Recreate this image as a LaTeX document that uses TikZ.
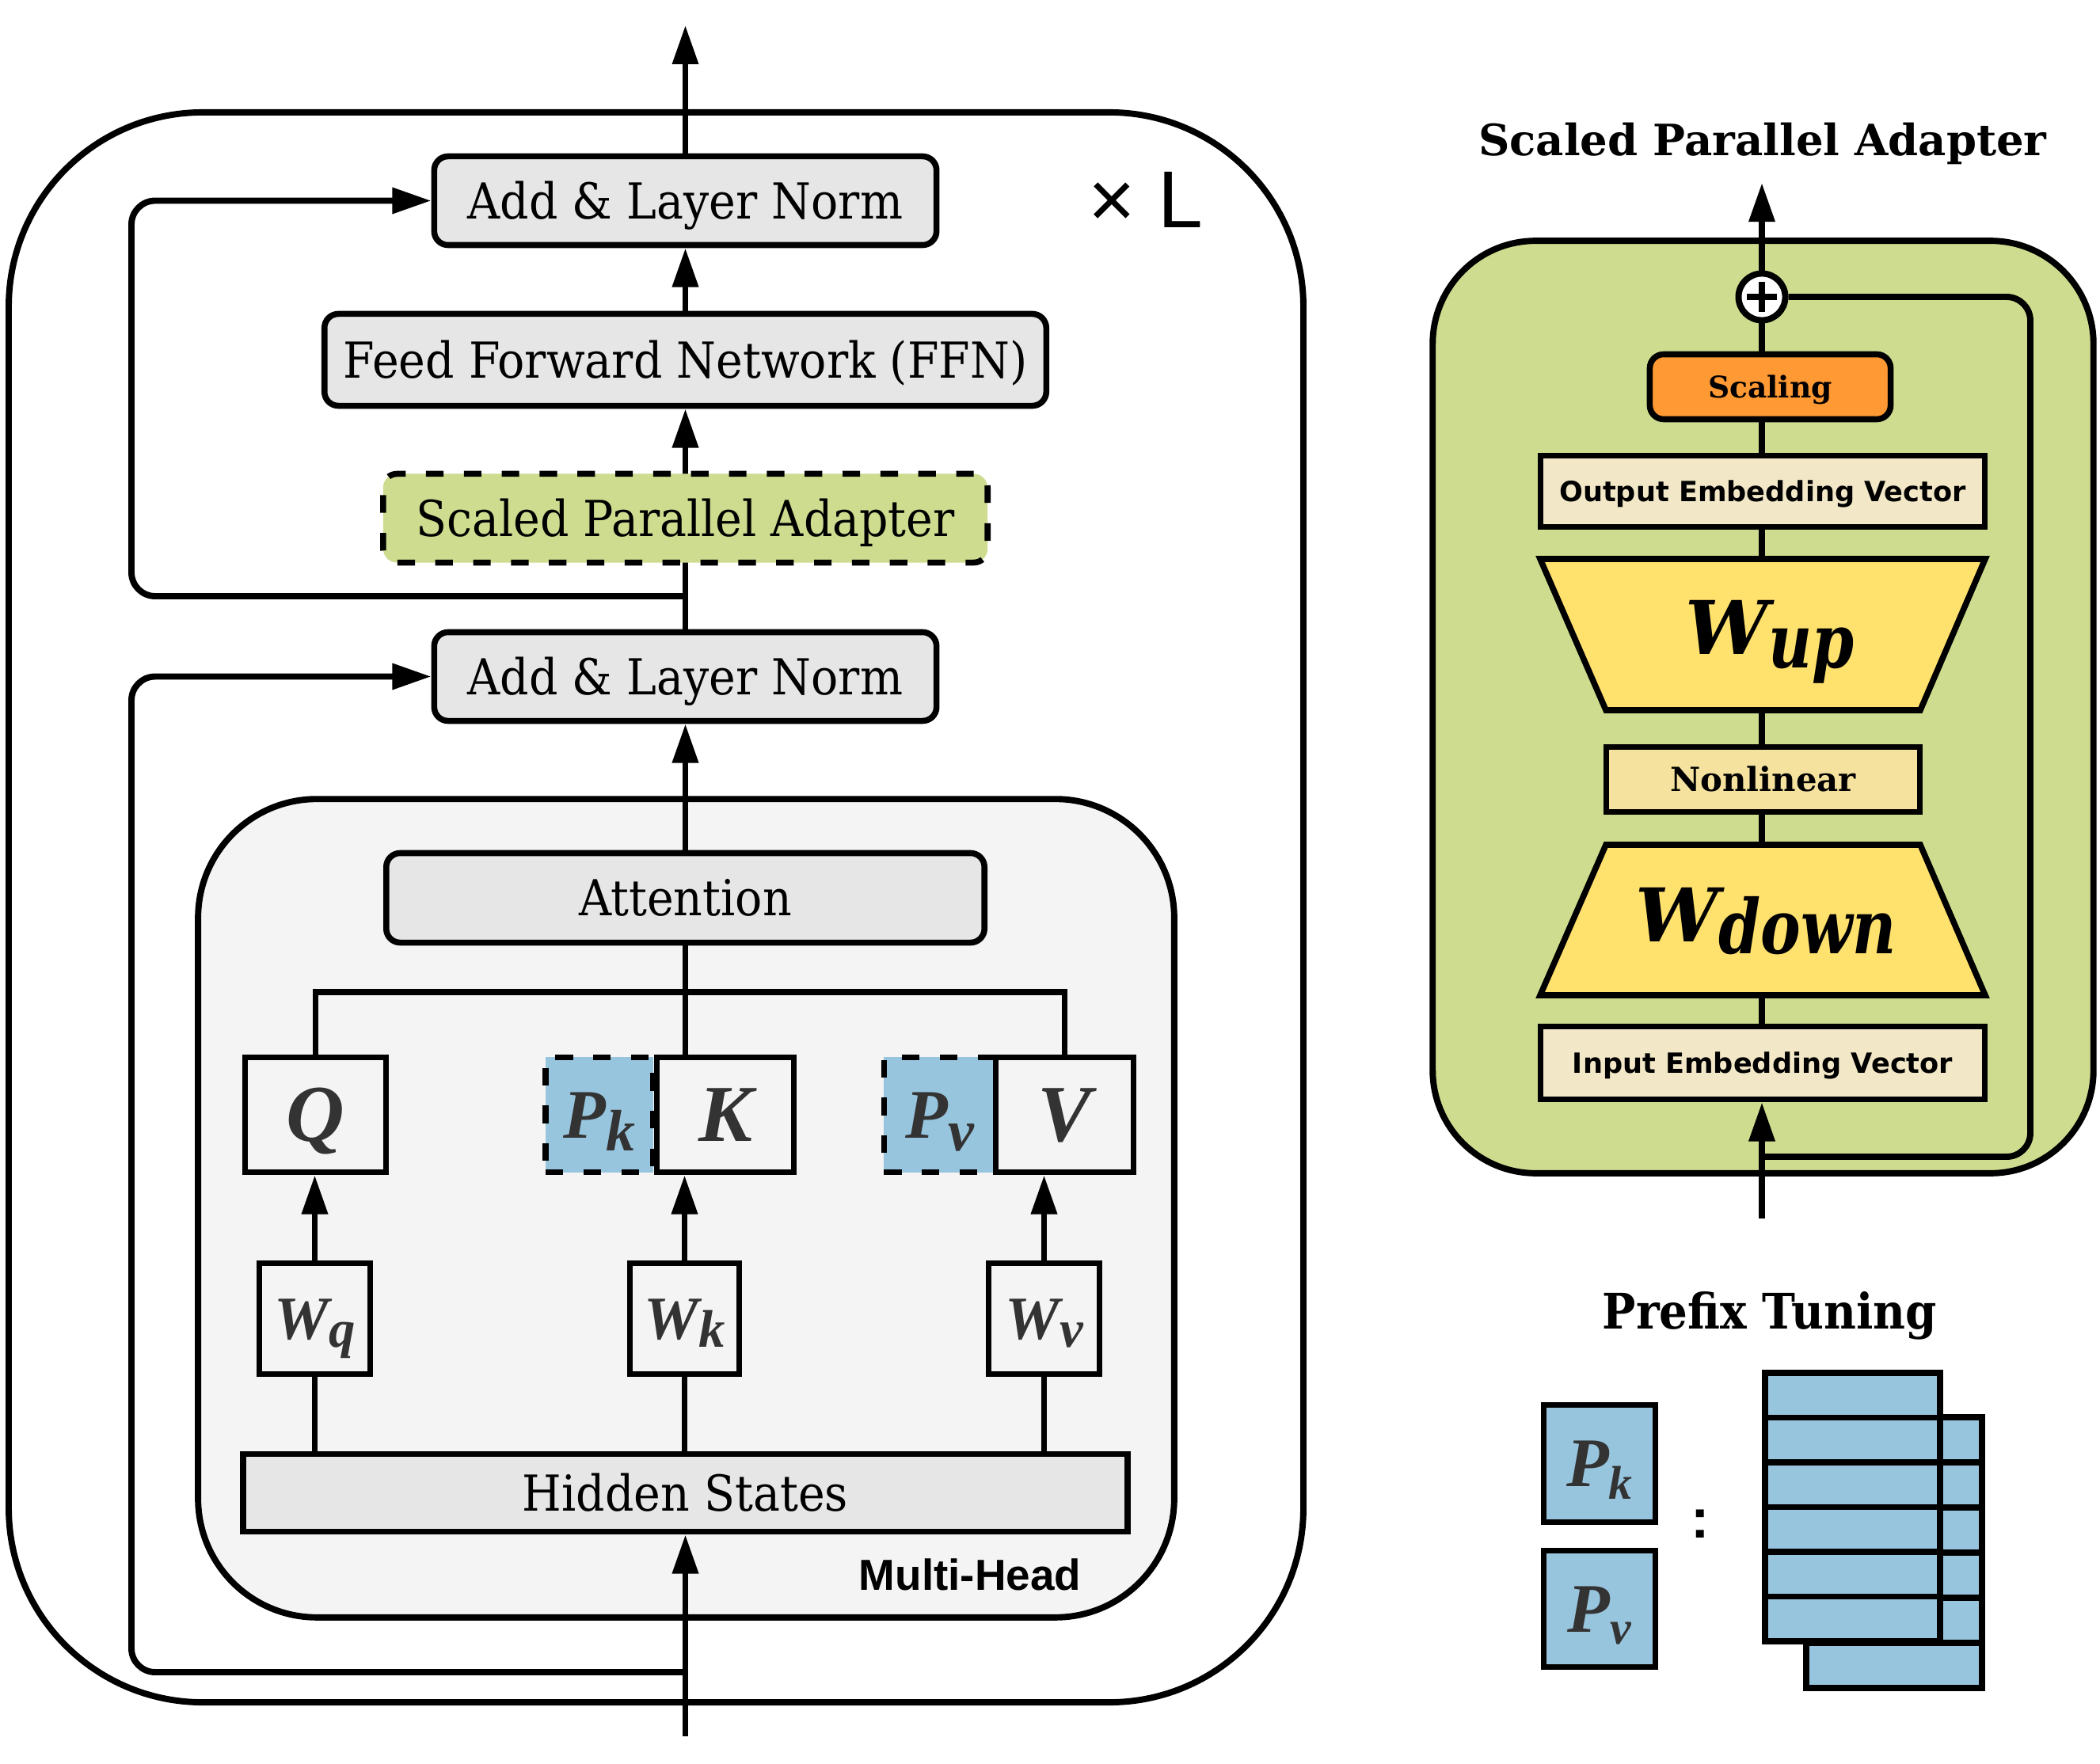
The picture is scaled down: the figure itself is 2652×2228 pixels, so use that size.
\documentclass[tikz,border=0pt]{standalone}
\usepackage{fontspec}
\usetikzlibrary{arrows.meta}
\newfontfamily\slabf[FakeStretch=0.91]{DejaVu Serif}
\newfontfamily\serf{DejaVu Serif}
\newfontfamily\sansf{DejaVu Sans}
\newfontfamily\tmsf{Liberation Serif}
\newfontfamily\arialf{Liberation Sans}
\newfontfamily\wsubf[FakeStretch=0.8]{DejaVu Serif}
\newcommand{\fsz}[1]{\fontsize{#1}{#1}\selectfont}
\definecolor{boxgray}{HTML}{E6E6E6}
\definecolor{mhgray}{HTML}{F4F4F4}
\definecolor{spagreen}{HTML}{CDDC8E}
\definecolor{pblue}{HTML}{98C5DE}
\definecolor{orng}{HTML}{FF9933}
\definecolor{wyellow}{HTML}{FFE16E}
\definecolor{nlyellow}{HTML}{F5E29E}
\definecolor{beige}{HTML}{F2E7C7}
\definecolor{txtgray}{HTML}{333333}
\tikzset{
  ln/.style={line width=2.25pt},
  arr/.style={line width=2.25pt,-{Triangle[length=14pt,width=9pt]}},
  dashbord/.style={dash pattern=on 6.3pt off 7.3pt},
  gbox/.style={draw,line width=2.15pt,fill=boxgray,rounded corners=5pt,inner sep=0pt,
     font=\slabf\fsz{17.8pt},text height=13pt,text depth=0pt,minimum height=1.12cm},
  sqbox/.style={draw,line width=2.15pt,inner sep=0pt,text=txtgray,minimum height=1.45cm},
  wbox/.style={draw,line width=2.15pt,inner sep=0pt,text=txtgray,minimum width=1.40cm,minimum height=1.40cm,
     font=\tmsf\bfseries\itshape\fsz{22pt},text height=14.5pt,text depth=0pt},
  qkv/.style={font=\tmsf\bfseries\itshape\fsz{29pt},text height=19.2pt,text depth=0pt},
  pbox/.style={draw,line width=2.15pt,fill=pblue,inner sep=0pt,text=txtgray,
     font=\tmsf\bfseries\itshape\fsz{25pt},text height=16.5pt,text depth=0pt},
  rbox/.style={draw,line width=2.15pt,inner sep=0pt},
}
\begin{document}
\begin{tikzpicture}[x=0.01cm,y=-0.01cm]
\path[use as bounding box,fill=white] (0,0) rectangle (2652,2228);

% ---------------- left: transformer layer ----------------
\node[draw,line width=2.25pt,rounded corners=2.45cm,minimum width=16.34cm,minimum height=20.07cm] (outer) at (828.5,1146) {};
\coordinate (resx) at (166,1000);
\coordinate (res1) at (865.5,753);
\coordinate (res2) at (865.5,2112);
\coordinate (inL) at (865.5,2193);
\coordinate (outL) at (865.5,32);
\coordinate (bar) at (865.5,1253);

\node[draw,line width=2.25pt,fill=mhgray,rounded corners=1.5cm,minimum width=12.32cm,minimum height=10.33cm] (mh) at (866.5,1526) {};

\node[gbox,minimum width=6.34cm] (an2) at (865.5,253.5) {Add \& Layer Norm};
\node[gbox,minimum width=9.11cm,minimum height=1.16cm] (ffn) at (865.5,454.5) {Feed Forward Network (FFN)};
\node[gbox,minimum width=6.34cm] (an1) at (865.5,854.5) {Add \& Layer Norm};
\draw[arr] (an1.north) -- (ffn.south);
\node[gbox,fill=spagreen,dashbord,minimum width=7.63cm] (spa) at (865.5,654.5) {Scaled Parallel Adapter};
\draw[arr] (ffn.north) -- (an2.south);
\draw[arr] (an2.north) -- (outL);
\draw[arr,rounded corners=0.3cm] (res1) -- (res1 -| resx) |- (an2.west);
\draw[arr,rounded corners=0.3cm] (res2) -- (res2 -| resx) |- (an1.west);

\node[anchor=base,font=\arialf\fsz{29pt}] (times) at (1447,288) {× L};

\node[gbox,minimum width=7.55cm,minimum height=1.13cm] (attn) at (865.5,1134) {Attention};
\draw[arr] (attn.north) -- (an1.south);

\node[sqbox,qkv,minimum width=1.78cm] (Q) at (398.5,1408) {Q};
\node[pbox,dashbord,minimum width=1.36cm,minimum height=1.45cm] (Pk) at (757,1408) {P\raisebox{-4.8pt}{\fsz{21pt}k}};
\node[sqbox,qkv,minimum width=1.73cm] (K) at (916,1408) {K};
\node[pbox,dashbord,minimum width=1.41cm,minimum height=1.45cm] (Pv) at (1187,1408) {P\raisebox{-4.8pt}{\fsz{21pt}v}};
\node[sqbox,qkv,minimum width=1.74cm] (V) at (1344.5,1408) {V};

\draw[ln] (attn.south) -- (bar);
\draw[ln] (Q.north) -- (Q.north |- bar) -- (V.north |- bar) -- (V.north);
\draw[ln] (bar) -- (bar |- K.north);

\node[wbox] (Wq) at (397.5,1665.5) {W\raisebox{-3pt}{\fsz{19pt}q}};
\node[wbox,minimum width=1.38cm] (Wk) at (864.5,1665.5) {W\raisebox{-3pt}{\fsz{19pt}k}};
\node[wbox] (Wv) at (1318.5,1665.5) {W\raisebox{-3pt}{\fsz{19pt}v}};

\node[gbox,rounded corners=0pt,minimum width=11.16cm,minimum height=0.98cm] (hs) at (865.5,1885.5) {Hidden States};

\draw[arr] (Wq.north) -- (Wq.north |- Q.south);
\draw[arr] (Wk.north) -- (Wk.north |- K.south);
\draw[arr] (Wv.north) -- (Wv.north |- V.south);
\draw[ln] (Wq.south) -- (Wq.south |- hs.north);
\draw[ln] (Wk.south) -- (Wk.south |- hs.north);
\draw[ln] (Wv.south) -- (Wv.south |- hs.north);
\draw[arr] (inL) -- (hs.south);

\node[anchor=base,font=\arialf\bfseries\fsz{15.6pt}] (mhlabel) at (1225,2008) {Multi-Head};

% ---------------- right: scaled parallel adapter ----------------
\node[anchor=base,font=\serf\bfseries\fsz{15.5pt}] (spatitle) at (2226,197) {Scaled Parallel Adapter};
\node[draw,line width=2.25pt,fill=spagreen,rounded corners=1.3cm,minimum width=8.34cm,minimum height=11.77cm] (spabg) at (2226.5,893) {};

\coordinate (outR) at (2225,231);
\coordinate (inR) at (2225,1539);
\coordinate (loopS) at (2225,1461);
\coordinate (loopR) at (2564,900);
\coordinate (wupT) at (2225,703);
\coordinate (wupB) at (2225,900);
\coordinate (wdT) at (2225,1064);
\coordinate (wdB) at (2225,1260);

\node[draw,line width=2.25pt,circle,fill=white,minimum size=0.59cm,inner sep=0pt] (plus) at (2225,375) {};
\draw[line width=2.3pt] ([xshift=-0.19cm]plus.center) -- ([xshift=0.19cm]plus.center);
\draw[line width=2.3pt] ([yshift=-0.19cm]plus.center) -- ([yshift=0.19cm]plus.center);
\draw[arr] (plus.north) -- (outR);
\draw[ln,rounded corners=0.3cm] (loopS) -- (loopS -| loopR) |- (plus.east);

\node[rbox,fill=orng,rounded corners=5pt,minimum width=3.04cm,minimum height=0.82cm,
      font=\serf\bfseries\fsz{10.7pt},text height=7.8pt,text depth=0pt] (scal) at (2235.5,488.5) {Scaling};
\node[rbox,fill=beige,minimum width=5.61cm,minimum height=0.90cm,
      font=\sansf\bfseries\fsz{10pt},text height=7.3pt,text depth=0pt] (oev) at (2226,620.5) {Output Embedding Vector};
\node[rbox,fill=nlyellow,minimum width=3.96cm,minimum height=0.82cm,
      font=\serf\bfseries\fsz{11.9pt},text height=8.7pt,text depth=0pt] (nonlin) at (2226.5,984.5) {Nonlinear};
\node[rbox,fill=beige,minimum width=5.61cm,minimum height=0.92cm,
      font=\sansf\bfseries\fsz{10pt},text height=7.3pt,text depth=0pt] (iev) at (2226,1342.5) {Input Embedding Vector};

\draw[line width=2.15pt,fill=wyellow] (1945,706) -- (2507,706) -- (2425,897) -- (2028,897) -- cycle;
\draw[line width=2.15pt,fill=wyellow] (2028,1067) -- (2425,1067) -- (2507,1257) -- (1945,1257) -- cycle;
\node[anchor=base,font=\serf\bfseries\itshape\fsz{26.6pt}] (wup) at (2235,826) {W\raisebox{-5pt}{\wsubf\bfseries\itshape\fsz{27pt}up}};
\node[anchor=base,font=\serf\bfseries\itshape\fsz{26.6pt}] (wdown) at (2230,1189) {W\raisebox{-4.5pt}{\wsubf\bfseries\itshape\fsz{27pt}down}};

\draw[ln] (plus.south) -- (plus.south |- scal.north);
\draw[ln] (plus.south |- scal.south) -- (plus.south |- oev.north);
\draw[ln] (oev.south -| wupT) -- (wupT);
\draw[ln] (wupB) -- (wupB |- nonlin.north);
\draw[ln] (wdT |- nonlin.south) -- (wdT);
\draw[ln] (wdB) -- (wdB |- iev.north);
\draw[arr] (inR) -- (inR |- iev.south);

% ---------------- right: prefix tuning ----------------
\node[anchor=base,font=\slabf\bfseries\fsz{17.6pt}] (pttitle) at (2235,1678) {Prefix Tuning};
\node[pbox,minimum width=1.41cm,minimum height=1.48cm] (ppk) at (2020,1848.5) {P\raisebox{-4.5pt}{\fsz{17pt}k}};
\node[pbox,minimum width=1.41cm,minimum height=1.47cm] (ppv) at (2020,2032) {P\raisebox{-4.5pt}{\fsz{17pt}v}};
\node[font=\arialf\bfseries\fsz{20pt}] (colon) at (2147,1925) {:};
\foreach \i in {0,...,5} {
  \draw[line width=2.15pt,fill=pblue] (2281,1790+57*\i) rectangle +(222,57);
}
\foreach \i in {0,...,5} {
  \draw[line width=2.15pt,fill=pblue] (2229,1734+56.5*\i) rectangle +(221,56.5);
}
\end{tikzpicture}
\end{document}
